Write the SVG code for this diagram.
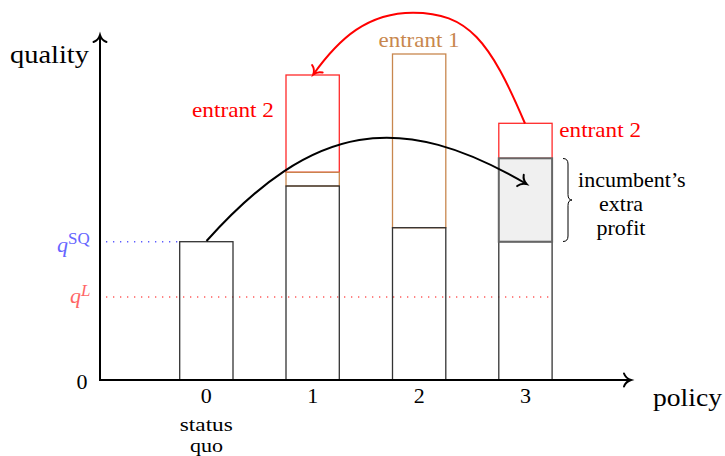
<svg xmlns="http://www.w3.org/2000/svg" width="725" height="456" viewBox="0 0 725 456">
<style>
text{font-family:"Liberation Serif","Times New Roman",serif;font-size:22px;fill:#000}
.big{font-size:26px}
.small{font-size:19px}
.red{fill:#ff0000}
.org{fill:#c8874e}
.bar{fill:none;stroke:#333;stroke-width:1.3}
.rbox{fill:none;stroke:#ff2a2a;stroke-width:1.3}
.obox{fill:none;stroke:#c8874e;stroke-width:1.3}
.axis{fill:none;stroke:#000;stroke-width:2}
.it{font-style:italic}
.sup{font-size:17px}
</style>
<defs>
<marker id="ah" markerUnits="userSpaceOnUse" orient="auto" refX="0" refY="0" markerWidth="20" markerHeight="20" overflow="visible">
<path d="M-7,-6.5 C-5.5,-2.5 -2,-0.6 0,0 C-2,0.6 -5.5,2.5 -7,6.5" fill="none" stroke="#000" stroke-width="2" stroke-linecap="round"/>
</marker>
<marker id="ahr" markerUnits="userSpaceOnUse" orient="auto" refX="0" refY="0" markerWidth="20" markerHeight="20" overflow="visible">
<path d="M-7,-6.5 C-5.5,-2.5 -2,-0.6 0,0 C-2,0.6 -5.5,2.5 -7,6.5" fill="none" stroke="#ff0000" stroke-width="2" stroke-linecap="round"/>
</marker>
</defs>

<g id="guides">
<line x1="106" y1="241.7" x2="179" y2="241.7" stroke="#5c5cff" stroke-width="1.5" stroke-dasharray="1.3 5.7"/>
<line x1="106" y1="297" x2="552" y2="297" stroke="#ff5c5c" stroke-width="1.4" stroke-dasharray="1.3 5.7"/>
</g>

<g id="bar0">
<rect class="bar" x="179.7" y="241.7" width="53.3" height="138.3"/>
</g>
<g id="bar1">
<rect class="rbox" x="286" y="75" width="53.3" height="97.3"/>
<rect class="obox" x="286" y="172.3" width="53.3" height="13.7"/>
<rect class="bar" x="286" y="186" width="53.3" height="194"/>
</g>
<g id="bar2">
<rect class="obox" x="392.5" y="54" width="53.3" height="173.7"/>
<rect class="bar" x="392.5" y="227.7" width="53.3" height="152.3"/>
</g>
<g id="bar3">
<rect class="rbox" x="498.8" y="123.3" width="53.3" height="35"/>
<rect class="bar" x="498.8" y="241.7" width="53.3" height="138.3"/>
<rect fill="#f0f0f0" stroke="#666" stroke-width="2" x="498.8" y="158.3" width="53.3" height="83.4"/>
</g>

<g id="axes">
<line class="axis" x1="100" y1="380" x2="100" y2="35" marker-end="url(#ah)"/>
<line class="axis" x1="99" y1="380" x2="631" y2="380" marker-end="url(#ah)"/>
</g>

<g id="connectors">
<path d="M206.5,241 C313.7,121.6 400,110 526.5,184" fill="none" stroke="#000" stroke-width="2" marker-end="url(#ah)"/>
<path d="M525,123.5 C489.9,40.7 468,12.7 413,12.7 C368,12.7 339.4,38 313.3,74.5" fill="none" stroke="#ff0000" stroke-width="2" marker-end="url(#ahr)"/>
</g>

<g id="brace">
<path d="M563,158.5 Q568,158.5 568,164 L568,194.5 Q568,200 572,200 Q568,200 568,205.5 L568,236 Q568,241.5 563,241.5" fill="none" stroke="#000" stroke-width="1"/>
</g>

<g id="labels">
<text class="big" x="10" y="63" textLength="79" lengthAdjust="spacingAndGlyphs">quality</text>
<text class="big" x="653" y="406" textLength="69" lengthAdjust="spacingAndGlyphs">policy</text>
<text x="82" y="389" text-anchor="middle">0</text>
<text x="206.3" y="403" text-anchor="middle">0</text>
<text x="312.7" y="403" text-anchor="middle">1</text>
<text x="419.2" y="403" text-anchor="middle">2</text>
<text x="525.5" y="403" text-anchor="middle">3</text>
<text class="small" x="179.8" y="431" textLength="53" lengthAdjust="spacingAndGlyphs">status</text>
<text class="small" x="190" y="451.7" textLength="33" lengthAdjust="spacingAndGlyphs">quo</text>
<text class="red" x="192" y="116.7" textLength="82" lengthAdjust="spacingAndGlyphs">entrant 2</text>
<text class="org" x="378.5" y="46.7" textLength="81" lengthAdjust="spacingAndGlyphs">entrant 1</text>
<text class="red" x="559.3" y="137.3" textLength="81.7" lengthAdjust="spacingAndGlyphs">entrant 2</text>
<text x="631.8" y="186.7" text-anchor="middle">incumbent’s</text>
<text x="621" y="211" text-anchor="middle">extra</text>
<text x="621" y="235" text-anchor="middle">profit</text>
<text x="57" y="252" style="fill:#6666ff"><tspan class="it">q</tspan><tspan class="sup" dy="-8">SQ</tspan></text>
<text x="70" y="303" style="fill:#ff6666"><tspan class="it">q</tspan><tspan class="sup it" dy="-7">L</tspan></text>
</g>
</svg>
